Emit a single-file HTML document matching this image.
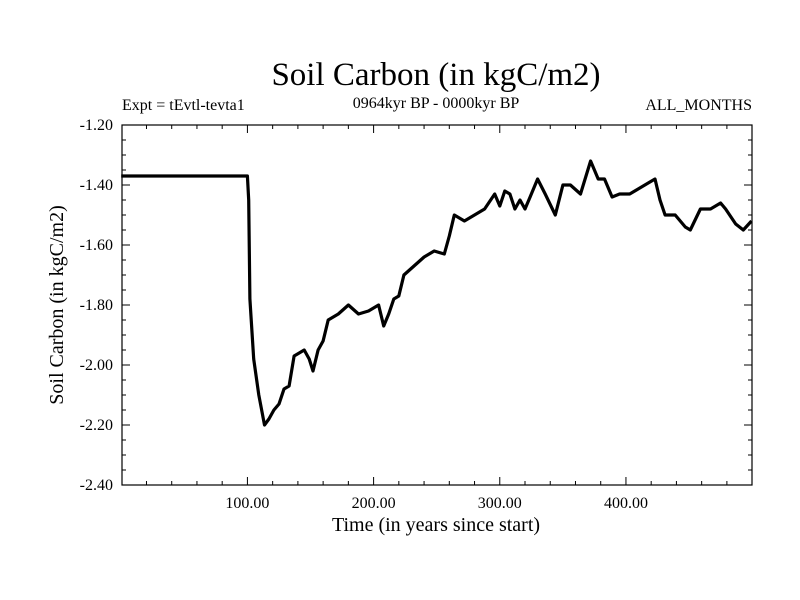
<!DOCTYPE html>
<html><head><meta charset="utf-8"><style>
html,body{margin:0;padding:0;background:#fff;}
svg{display:block;font-family:"Liberation Serif",serif;}
</style></head><body>
<svg id="chart" width="800" height="600" viewBox="0 0 800 600">
<rect width="800" height="600" fill="#fff"/>
<text x="436" y="85" font-size="33" text-anchor="middle">Soil Carbon (in kgC/m2)</text>
<text x="436" y="108" font-size="16" text-anchor="middle">0964kyr BP - 0000kyr BP</text>
<text x="122" y="110" font-size="16">Expt = tEvtl-tevta1</text>
<text x="752" y="110" font-size="16" text-anchor="end">ALL_MONTHS</text>
<text transform="translate(63,305) rotate(-90)" font-size="20" text-anchor="middle">Soil Carbon (in kgC/m2)</text>
<text x="436" y="531" font-size="20" text-anchor="middle">Time (in years since start)</text>
<g id="axes"></g>
<g id="series"></g>
</svg>
<script>
const years=[0,100,101,102,105,109,113.5,117,121,125,129,133,137,141,145,149,152,156,160,164,172,180,188,196,204,208,212,216,220,224,232,240,248,256,260,264,272,280,288,296,300,304,308,312,316,320,324,330,336,344,350,356,364,372,378,383,389,395,403,411,419,423,427,431,439,447,451,459,467,475,479,487,493,499.5];
const values=[-1.37,-1.37,-1.45,-1.78,-1.98,-2.10,-2.20,-2.18,-2.15,-2.13,-2.08,-2.07,-1.97,-1.96,-1.95,-1.98,-2.02,-1.95,-1.92,-1.85,-1.83,-1.80,-1.83,-1.82,-1.80,-1.87,-1.83,-1.78,-1.77,-1.70,-1.67,-1.64,-1.62,-1.63,-1.57,-1.50,-1.52,-1.50,-1.48,-1.43,-1.47,-1.42,-1.43,-1.48,-1.45,-1.48,-1.44,-1.38,-1.43,-1.50,-1.40,-1.40,-1.43,-1.32,-1.38,-1.38,-1.44,-1.43,-1.43,-1.41,-1.39,-1.38,-1.45,-1.50,-1.50,-1.54,-1.55,-1.48,-1.48,-1.46,-1.48,-1.53,-1.55,-1.52];
const xTicks=[100,200,300,400];
const xTickLabels=["100.00","200.00","300.00","400.00"];
const yTicks=[-1.2,-1.4,-1.6,-1.8,-2.0,-2.2,-2.4];
const yTickLabels=["-1.20","-1.40","-1.60","-1.80","-2.00","-2.20","-2.40"];

const L=122,R=752,T=125,B=485;
const X0=0.6,X1=499.9,Y0=-2.4,Y1=-1.2;
const xs=v=>L+(v-X0)/(X1-X0)*(R-L);
const ys=v=>B-(v-Y0)/(Y1-Y0)*(B-T);
const NS="http://www.w3.org/2000/svg";
const axes=document.getElementById('axes');
function mk(tag,attrs,parent){const e=document.createElementNS(NS,tag);for(const k in attrs)e.setAttribute(k,attrs[k]);parent.appendChild(e);return e;}

const frame=mk('rect',{x:L,y:T,width:R-L,height:B-T,fill:'none',stroke:'#000','stroke-width':1.2},axes);



for(let v=20;v<X1;v+=20){
  const major=v%100===0, len=major?8:4, x=xs(v);
  const t1=mk('line',{x1:x,x2:x,y1:B,y2:B-len,stroke:'#000','stroke-width':1},axes);
  
  
  const t2=mk('line',{x1:x,x2:x,y1:T,y2:T+len,stroke:'#000','stroke-width':1},axes);
  
  
}
xTicks.forEach((v,i)=>{
  const t=mk('text',{x:xs(v),y:B+23,'font-size':16,'text-anchor':'middle'},axes);
  t.textContent=xTickLabels[i];
  
  
});
for(let k=0;k<=24;k++){
  const v=Y0+k*0.05, major=k%4===0, len=major?8:4, y=ys(v);
  const t1=mk('line',{x1:L,x2:L+len,y1:y,y2:y,stroke:'#000','stroke-width':1},axes);
  
  
  const t2=mk('line',{x1:R,x2:R-len,y1:y,y2:y,stroke:'#000','stroke-width':1},axes);
  
  
}
yTicks.forEach((v,i)=>{
  const t=mk('text',{x:113,y:ys(v)+5,'font-size':16,'text-anchor':'end'},axes);
  t.textContent=yTickLabels[i];
  
  
});
const d=years.map((yr,i)=>(i?'L':'M')+xs(yr).toFixed(1)+','+ys(values[i]).toFixed(1)).join(' ');
const line=mk('path',{d:d,fill:'none',stroke:'#000','stroke-width':3.2,'stroke-linejoin':'round'},document.getElementById('series'));


</script>
</body></html>
